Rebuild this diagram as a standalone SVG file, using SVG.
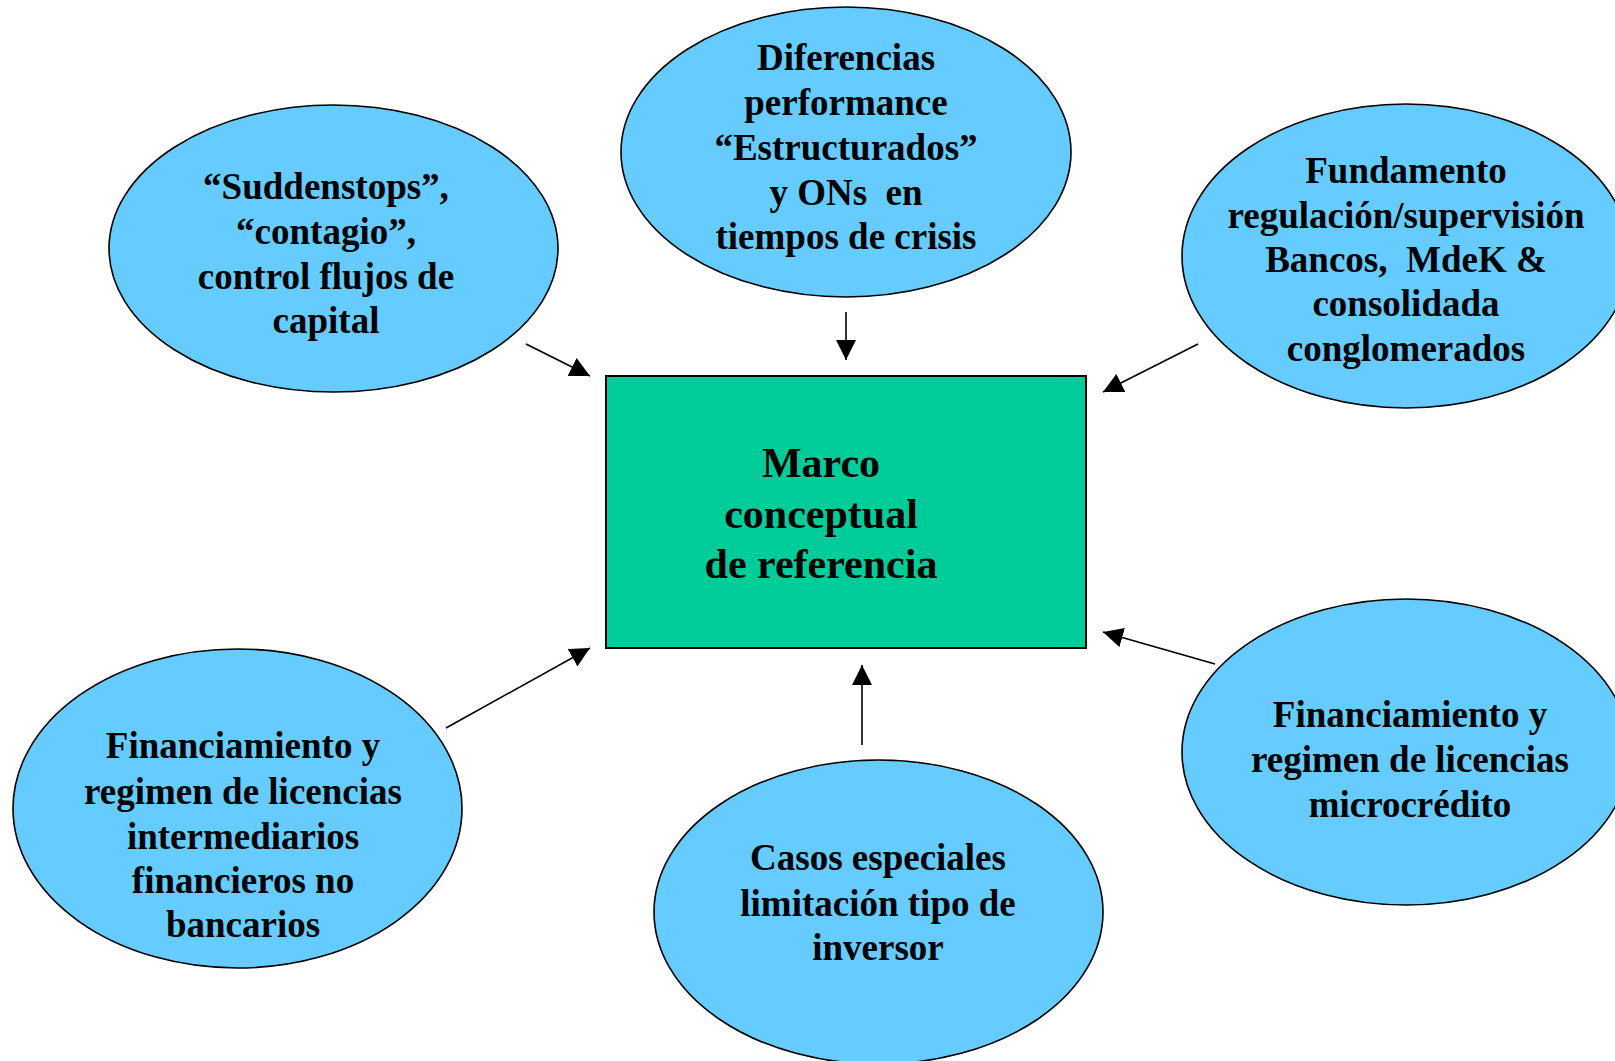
<svg xmlns="http://www.w3.org/2000/svg" width="1615" height="1061" viewBox="0 0 1615 1061">
<defs>
<marker id="ah" markerUnits="userSpaceOnUse" markerWidth="20" markerHeight="20" refX="20" refY="10" orient="auto">
<path d="M0,0 L20,10 L0,20 z" fill="#000"/>
</marker>
<style>
.oval{fill:#66CCFF;stroke:#000;stroke-width:1.6}
.box{fill:#00CC99;stroke:#000;stroke-width:2}
.t{font-family:"Liberation Serif","Times New Roman",serif;font-weight:bold;font-size:37px;fill:#000;text-anchor:middle}
.tc{font-family:"Liberation Serif","Times New Roman",serif;font-weight:bold;font-size:42px;fill:#000;text-anchor:middle}
.c{stroke:#000;stroke-width:1.6;fill:none;marker-end:url(#ah)}
</style>
</defs>
<rect width="1615" height="1061" fill="#fff"/>
<g id="connectors">
<line class="c" x1="526" y1="344" x2="590" y2="376"/>
<line class="c" x1="846" y1="312" x2="846" y2="360"/>
<line class="c" x1="1198" y1="344" x2="1103" y2="392"/>
<line class="c" x1="446" y1="728" x2="590" y2="648"/>
<line class="c" x1="862" y1="745" x2="862" y2="665"/>
<line class="c" x1="1215" y1="664" x2="1103" y2="632"/>
</g>
<g id="center">
<rect class="box" x="606" y="376" width="480" height="272"/>
<text class="tc" x="821" y="477">Marco</text>
<text class="tc" x="821" y="528">conceptual</text>
<text class="tc" x="821" y="578">de referencia</text>
</g>
<g id="n-suddenstops">
<ellipse class="oval" cx="333.5" cy="248.5" rx="224.5" ry="143.5"/>
<text class="t" x="326" y="199">“Suddenstops”,</text>
<text class="t" x="326" y="244">“contagio”,</text>
<text class="t" x="326" y="289">control flujos de</text>
<text class="t" x="326" y="333">capital</text>
</g>
<g id="n-diferencias">
<ellipse class="oval" cx="846" cy="152" rx="225" ry="145"/>
<text class="t" x="846" y="70">Diferencias</text>
<text class="t" x="846" y="115">performance</text>
<text class="t" x="846" y="160">“Estructurados”</text>
<text class="t" x="846" y="205" xml:space="preserve">y ONs  en</text>
<text class="t" x="846" y="249">tiempos de crisis</text>
</g>
<g id="n-fundamento">
<ellipse class="oval" cx="1406" cy="256" rx="224" ry="152"/>
<text class="t" x="1406" y="183">Fundamento</text>
<text class="t" x="1406" y="228">regulación/supervisión</text>
<text class="t" x="1406" y="272" xml:space="preserve">Bancos,  MdeK &amp;</text>
<text class="t" x="1406" y="316">consolidada</text>
<text class="t" x="1406" y="361">conglomerados</text>
</g>
<g id="n-nobancarios">
<ellipse class="oval" cx="237.5" cy="808.5" rx="224.5" ry="159.5"/>
<text class="t" x="243" y="758">Financiamiento y</text>
<text class="t" x="243" y="804">regimen de licencias</text>
<text class="t" x="243" y="849">intermediarios</text>
<text class="t" x="243" y="893">financieros no</text>
<text class="t" x="243" y="937">bancarios</text>
</g>
<g id="n-casos">
<ellipse class="oval" cx="878.5" cy="912" rx="224.5" ry="152"/>
<text class="t" x="878" y="870">Casos especiales</text>
<text class="t" x="878" y="916">limitación tipo de</text>
<text class="t" x="878" y="960">inversor</text>
</g>
<g id="n-microcredito">
<ellipse class="oval" cx="1406" cy="752" rx="224" ry="153"/>
<text class="t" x="1410" y="727">Financiamiento y</text>
<text class="t" x="1410" y="772">regimen de licencias</text>
<text class="t" x="1410" y="817">microcrédito</text>
</g>
</svg>
